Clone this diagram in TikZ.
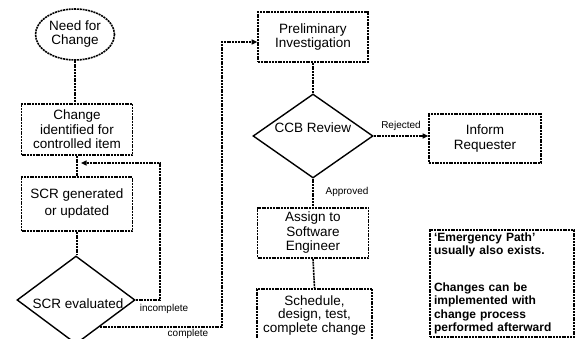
\documentclass[tikz,border=0pt]{standalone}
\usepackage{fontspec}
\setmainfont{Liberation Sans}
\usetikzlibrary{shapes.geometric,arrows.meta,calc}
\begin{document}
\begin{tikzpicture}[x=1pt,y=-1pt,
  dotline/.style={line width=1.6pt,dash pattern=on 2pt off 0.8pt},
  procbox/.style={dotline,draw,rectangle,inner sep=0pt,align=center,
    font=\fontsize{13.5}{14.5}\selectfont},
  decision/.style={draw,diamond,line width=1.4pt,inner sep=0pt},
  startnode/.style={dotline,draw,ellipse,inner sep=0pt,align=center,
    font=\fontsize{13.5}{14}\selectfont},
  conn/.style={dotline},
  arr/.style={dotline,-{Triangle[length=5.5pt,width=5pt]}},
  lbl/.style={font=\fontsize{10}{11}\selectfont,inner sep=0pt},
  bodytext/.style={font=\fontsize{13.5}{14}\selectfont,align=center,inner sep=0pt}
]
\useasboundingbox (0,0) rectangle (587,339);
\clip (0,0) rectangle (587,339);

% left column
\node[startnode,minimum width=79pt,minimum height=51pt] (need) at (75,34.5) {Need for\\Change};
\node[procbox,minimum width=111pt,minimum height=51pt] (chg) at (77,129.5)
  {Change\\identified for\\controlled item};
\node[procbox,minimum width=111pt,minimum height=54pt,
  font=\fontsize{13.5}{17}\selectfont] (scr) at (77,204) {SCR generated\\or updated};
\node[decision,minimum width=118pt,minimum height=88pt] (sd) at (76,300) {};
\node[bodytext] at (78,304) {SCR evaluated};

% middle column
\node[procbox,minimum width=110pt,minimum height=50pt] (pre) at (313,37)
  {Preliminary\\Investigation};
\node[decision,minimum width=120pt,minimum height=84pt] (ccb) at (313,136) {};
\node[bodytext] at (313,128) {CCB Review};
\node[procbox,minimum width=111pt,minimum height=50pt] (asg) at (313,233)
  {Assign to\\Software\\Engineer};
\node[procbox,minimum width=115pt,minimum height=64pt,anchor=north] (sch) at (314.5,288) {};
\node[bodytext,font=\fontsize{13.5}{13.5}\selectfont] at (314.5,315.5)
  {Schedule,\\design, test,\\complete change};

% right column
\node[procbox,minimum width=112pt,minimum height=49pt] (inf) at (485,138.5)
  {Inform\\Requester};
\node[procbox,minimum width=144pt,minimum height=107pt,align=left,
  font=\bfseries\fontsize{12}{13.5}\selectfont,text width=136pt] (note) at (502,283.5)
  {`Emergency Path'\\usually also exists.\\[23pt]Changes can be\\implemented with\\change process\\performed afterward};

% connectors
\draw[conn] (need.south) -- (chg.north -| need.south);
\draw[conn] (chg.south) -- (scr.north);
\draw[conn] (scr.south) -- (sd.north -| scr.south);
\coordinate (incR) at (160,163);
\coordinate (incL) at (81,163);
\draw[arr] (sd.east) -| (incR) -- (incL);
\node[lbl] at (164,309) {incomplete};
\coordinate (cmp) at ($(sd.east)!0.6!(sd.south)$);
\coordinate (cmpR) at (222,42);
\draw[arr] (cmp) -| (cmpR) -- (cmpR -| pre.west);
\node[lbl] at (188,334) {complete};
\draw[conn] (pre.south) -- (ccb.north);
\draw[arr] (ccb.east) -- (ccb.east -| inf.west);
\node[lbl] at (401,126) {Rejected};
\draw[conn] (ccb.south) -- (asg.north);
\node[lbl] at (347,192) {Approved};
\draw[conn] (asg.south) -- (sch.north);
\end{tikzpicture}
\end{document}
